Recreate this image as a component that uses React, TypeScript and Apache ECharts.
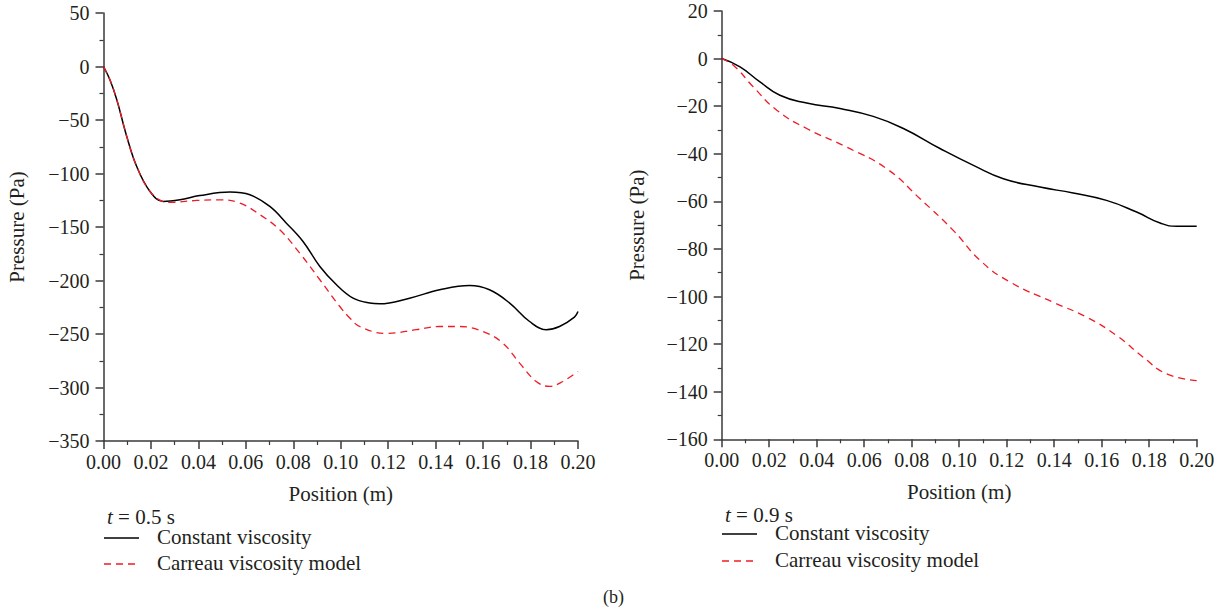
import React, { useEffect, useRef } from "react";
import * as echarts from "echarts";

// Left panel (t = 0.5 s)
const leftConstX = [0, 0.0027, 0.0056, 0.0098, 0.014, 0.0196, 0.0252, 0.0322, 0.0406, 0.0533, 0.0617, 0.0701, 0.0771, 0.0841, 0.0912, 0.0982, 0.1052, 0.1122, 0.1164, 0.129, 0.1417, 0.1543, 0.1627, 0.1712, 0.1796, 0.1866, 0.1922, 0.1985, 0.2];
const leftConstY = [0, -12.4, -31, -65.4, -93.5, -116.8, -126.2, -124.6, -120.6, -117.4, -119.9, -130.8, -146.4, -163.5, -186.9, -204, -216.5, -221.1, -221.8, -216.5, -208.7, -204.7, -208.7, -221.1, -238.3, -246, -243, -234.2, -229];
const leftCarX = [0, 0.0027, 0.0056, 0.0098, 0.014, 0.0196, 0.0252, 0.028, 0.0392, 0.0491, 0.0575, 0.066, 0.0743, 0.0827, 0.0912, 0.0996, 0.1038, 0.108, 0.1192, 0.1318, 0.1417, 0.1501, 0.16, 0.1683, 0.1754, 0.1824, 0.188, 0.1936, 0.2];
const leftCarY = [0, -12.4, -31, -65.4, -93.5, -116.8, -126.2, -127, -125.2, -124.6, -127.7, -138.6, -152.6, -174.4, -199.3, -224.3, -235, -243, -249.5, -246, -243, -243, -247.7, -258.5, -277.2, -294.4, -299, -294.4, -285];

// Right panel (t = 0.9 s)
const rightConstX = [0, 0.0077, 0.0161, 0.0245, 0.0358, 0.0498, 0.0638, 0.0765, 0.0919, 0.106, 0.1186, 0.134, 0.148, 0.162, 0.1747, 0.1846, 0.1916, 0.2];
const rightConstY = [0, -3.5, -9.8, -15.4, -18.7, -21, -24.3, -29.4, -37.8, -44.9, -50.5, -54, -56.5, -59.6, -64.5, -69.1, -70.5, -70.5];
const rightCarX = [0, 0.0049, 0.0133, 0.0232, 0.0358, 0.0526, 0.0695, 0.0835, 0.0975, 0.1088, 0.1214, 0.1396, 0.1537, 0.1663, 0.1775, 0.1874, 0.2];
const rightCarY = [0, -2.8, -11.9, -21.7, -29.4, -37.2, -46.3, -58.9, -72.2, -84.8, -93.9, -102.4, -108.7, -116.4, -125.5, -132.5, -135.3];

const seriesNames = ["Constant viscosity", "Carreau viscosity model"];
const timeLabels = ["0.5", "0.9"];
const xName = "Position (m)";
const yName = "Pressure (Pa)";
const caption = "(b)";

const FONT = "'Liberation Serif', 'DejaVu Serif', serif";
const TXT = "#231f20";
const AXC = "#3a3a3a";
const RED = "#ee1c25";

const zip = (xs: number[], ys: number[]) => xs.map((x, i) => [x, ys[i]]);
const minusFmt = (v: number) => String(v).replace("-", "\u2212");

function xAxis(gridIndex: number) {
  return {
    type: "value",
    gridIndex,
    min: 0,
    max: 0.2,
    interval: 0.02,
    name: xName,
    nameLocation: "middle",
    nameGap: 42,
    nameTextStyle: { fontFamily: FONT, fontSize: 21, color: TXT },
    axisLine: { show: true, onZero: false, lineStyle: { color: AXC, width: 1.5 } },
    axisTick: { show: true, length: 8, lineStyle: { color: AXC, width: 1.5 } },
    minorTick: { show: true, splitNumber: 2, length: 4, lineStyle: { color: AXC, width: 1.2 } },
    splitLine: { show: false },
    axisLabel: {
      fontFamily: FONT,
      fontSize: 20,
      color: TXT,
      margin: 11,
      formatter: (v: number) => v.toFixed(2),
    },
  };
}

function yAxis(gridIndex: number, min: number, max: number, interval: number, gap: number) {
  return {
    type: "value",
    gridIndex,
    min,
    max,
    interval,
    name: yName,
    nameLocation: "middle",
    nameGap: gap,
    nameTextStyle: { fontFamily: FONT, fontSize: 21, color: TXT },
    axisLine: { show: true, onZero: false, lineStyle: { color: AXC, width: 1.5 } },
    axisTick: { show: true, length: 8, lineStyle: { color: AXC, width: 1.5 } },
    minorTick: { show: true, splitNumber: 2, length: 4, lineStyle: { color: AXC, width: 1.2 } },
    splitLine: { show: false },
    axisLabel: {
      fontFamily: FONT,
      fontSize: 20,
      color: TXT,
      margin: 14,
      formatter: minusFmt,
    },
  };
}

function legendGroup(x: number, yT: number, yC: number, yR: number, t: string) {
  return [
    {
      type: "text",
      left: x + 3,
      top: yT - 11,
      style: {
        rich: {
          it: { fontFamily: FONT, fontSize: 21, fontStyle: "italic", fill: TXT },
          n: { fontFamily: FONT, fontSize: 21, fill: TXT },
        },
        text: `{it|t}{n| = ${t} s}`,
      },
    },
    {
      type: "line",
      shape: { x1: x, y1: yC, x2: x + 35, y2: yC },
      style: { stroke: "#000", lineWidth: 1.5 },
    },
    {
      type: "text",
      left: x + 53,
      top: yC - 12,
      style: { text: seriesNames[0], fontFamily: FONT, fontSize: 21, fill: TXT },
    },
    {
      type: "line",
      shape: { x1: x, y1: yR, x2: x + 35, y2: yR },
      style: { stroke: RED, lineWidth: 1.3, lineDash: [7, 5] },
    },
    {
      type: "text",
      left: x + 53,
      top: yR - 12,
      style: { text: seriesNames[1], fontFamily: FONT, fontSize: 21, fill: TXT },
    },
  ];
}

export default function App() {
  const ref = useRef<HTMLDivElement>(null);
  useEffect(() => {
    if (!ref.current) return;
    const chart = echarts.init(ref.current, null, { renderer: "svg" });
    const lineConst = { color: "#000", width: 1.5 };
    const lineCar = { color: RED, width: 1.3, type: [7, 5] };
    chart.setOption({
      animation: false,
      backgroundColor: "#fff",
      grid: [
        { left: 103.5, top: 13, width: 474.5, height: 428 },
        { left: 721.7, top: 11, width: 475, height: 428.3 },
      ],
      xAxis: [xAxis(0), xAxis(1)],
      yAxis: [yAxis(0, -350, 50, 50, 76), yAxis(1, -160, 20, 20, 74)],
      series: [
        { name: seriesNames[0], type: "line", xAxisIndex: 0, yAxisIndex: 0, data: zip(leftConstX, leftConstY), smooth: 0.4, showSymbol: false, lineStyle: lineConst, z: 3 },
        { name: seriesNames[1], type: "line", xAxisIndex: 0, yAxisIndex: 0, data: zip(leftCarX, leftCarY), smooth: 0.4, showSymbol: false, lineStyle: lineCar, z: 4 },
        { name: seriesNames[0], type: "line", xAxisIndex: 1, yAxisIndex: 1, data: zip(rightConstX, rightConstY), smooth: 0.5, showSymbol: false, lineStyle: lineConst, z: 3 },
        { name: seriesNames[1], type: "line", xAxisIndex: 1, yAxisIndex: 1, data: zip(rightCarX, rightCarY), smooth: 0.5, showSymbol: false, lineStyle: lineCar, z: 4 },
      ],
      graphic: [
        ...legendGroup(104, 517, 538, 564, timeLabels[0]),
        ...legendGroup(722, 515, 534, 561, timeLabels[1]),
        {
          type: "text",
          left: 603,
          top: 588,
          style: { text: caption, fontFamily: FONT, fontSize: 18, fill: TXT },
        },
      ],
    });
    return () => chart.dispose();
  }, []);
  return (
    <div
      ref={ref}
      style={{ position: "fixed", left: 0, top: 0, width: 1226, height: 612, background: "#fff" }}
    />
  );
}
